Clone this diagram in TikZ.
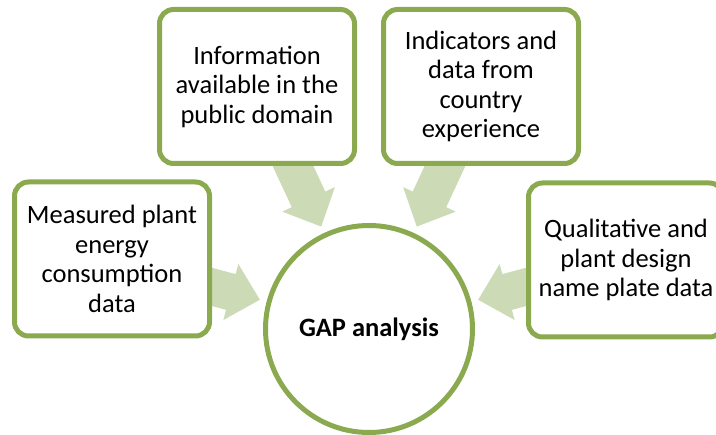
\documentclass[tikz,border=0pt]{standalone}
\usepackage{fontspec}
\setmainfont{Carlito}
\usetikzlibrary{backgrounds,calc}
\definecolor{boxgreen}{RGB}{139,170,79}
\definecolor{arrowgreen}{RGB}{204,218,182}
\begin{document}
\begin{tikzpicture}[x=1pt,y=1pt,
  srcbox/.style={draw=boxgreen, line width=5pt, fill=white, rounded corners=14pt,
    minimum width=195pt, minimum height=154pt, align=center, inner sep=0pt,
    font=\fontsize{26.5}{29.5}\selectfont},
  gapcircle/.style={circle, draw=boxgreen, line width=5pt, fill=white,
    minimum size=207pt, inner sep=0pt, font=\fontsize{26.5}{29.5}\selectfont\bfseries},
  blockarrow/.style={fill=arrowgreen}]
\useasboundingbox (0,0) rectangle (716,-435);
\clip (0,0) rectangle (716,-435);
\node[gapcircle] (gap) at (369,-329) {GAP analysis};
\node[srcbox] (meas) at (112,-259) {Measured plant\\energy\\consumption\\data};
\node[srcbox] (info) at (257,-86.5) {Information\\available in the\\public domain};
\node[srcbox] (ind) at (481,-86.5) {Indicators and\\data from\\country\\experience};
\node[srcbox] (qual) at (626,-260) {Qualitative and\\plant design\\name plate data};
\begin{scope}[on background layer]
  \foreach \a in {165,115,65,15}{
    \fill[blockarrow, shift={($(gap.center)+(\a:113)$)}, rotate=\a+180]
      (0,0) -- (-30,29) -- (-30,18.5) -- (-75,18.5) -- (-75,-18.5)
      -- (-30,-18.5) -- (-30,-29) -- cycle;
  }
\end{scope}
\end{tikzpicture}
\end{document}
